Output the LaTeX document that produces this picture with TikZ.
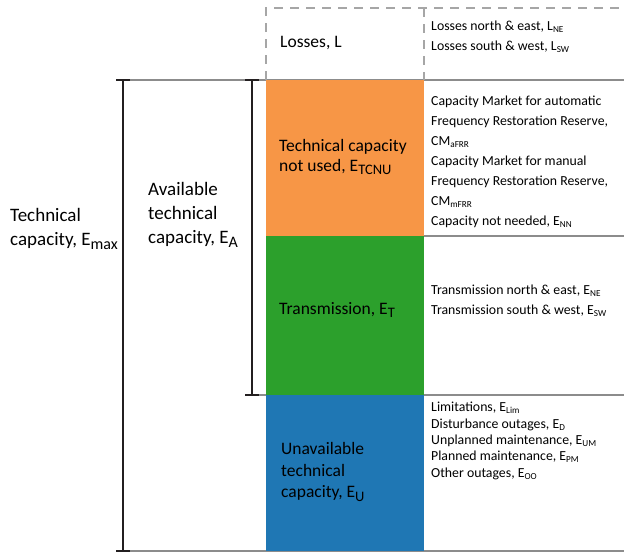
\documentclass[tikz,border=0pt]{standalone}
\usepackage{fontspec}
\setmainfont{Carlito}
\definecolor{corange}{HTML}{F79646}
\definecolor{cgreen}{HTML}{2CA02C}
\definecolor{cblue}{HTML}{1F77B4}
\definecolor{crule}{HTML}{8C8C8C}
\definecolor{cdash}{HTML}{A6A6A6}
\definecolor{cbrk}{HTML}{231F20}
% subscripts for the large and the small labels
\newcommand\bsub[1]{\raisebox{-0.4ex}{\fontsize{14.5}{14.5}\selectfont #1}}
\newcommand\lsub[1]{\raisebox{-0.4ex}{\fontsize{16}{16}\selectfont #1}}
\newcommand\ssub[1]{\raisebox{-0.3ex}{\fontsize{9.2}{9.2}\selectfont #1}}
\tikzset{
  block/.style={anchor=north west, inner sep=0pt, draw=none, minimum width=158pt},
  biglabel/.style={anchor=west, inner sep=0pt, align=left, font=\fontsize{17.5}{20}\selectfont},
  sidelabel/.style={anchor=west, inner sep=0pt, align=left, font=\fontsize{19}{24}\selectfont},
  smalllabel/.style={anchor=west, inner sep=0pt, align=left, font=\fontsize{13.8}{20}\selectfont},
  rule/.style={draw=crule, line width=1.3pt},
  dashrule/.style={draw=cdash, line width=1.2pt, dash pattern=on 9pt off 7pt},
  brk/.style={draw=cbrk, line width=2pt},
}
\begin{document}
\begin{tikzpicture}[x=1pt, y=-1pt]
\useasboundingbox (0,0) rectangle (624,552);

% horizontal rules of the table
\draw[rule] (116,80) -- (624,80);
\draw[rule] (424,236) -- (624,236);
\draw[rule] (259,395) -- (624,395);
\draw[rule] (116,551) -- (624,551);

% dashed losses row
\draw[dashrule] (266,80) -- (266,8) -- (624,8);
\draw[dashrule] (424,8) -- (424,80);

% coloured capacity blocks
\node[block, fill=corange, minimum height=156pt] (tcnu) at (266,80) {};
\node[block, fill=cgreen, minimum height=159pt] (trans) at (266,236) {};
\node[block, fill=cblue, minimum height=156pt] (unav) at (266,395) {};

% brackets for the technical and the available capacity
\draw[brk] (123,80) -- (123,551);
\draw[brk] (116,80) -- (130,80);
\draw[brk] (116,551) -- (130,551);
\draw[brk] (252,80) -- (252,395);
\draw[brk] (245,80) -- (259,80);
\draw[brk] (245,395) -- (259,395);

% left labels
\node[sidelabel] (emax) at (10,229)
  {Technical\\capacity, E\lsub{max}};
\node[sidelabel] (ea) at (148,215)
  {Available\\technical\\capacity, E\lsub{A}};

% labels inside the blocks
\node[biglabel] (lossL) at (280,43) {Losses, L};
\node[biglabel] (tcnuL) at (279,157) {Technical capacity\\not used, E\bsub{TCNU}};
\node[biglabel] (transL) at (279,310) {Transmission, E\bsub{T}};
\node[biglabel, font=\fontsize{17.5}{21.5}\selectfont] (unavL) at (281,472)
  {Unavailable\\technical\\capacity, E\bsub{U}};

% breakdown column
\node[smalllabel] (lossR) at (431,37)
  {Losses north \& east, L\ssub{NE}\\Losses south \& west, L\ssub{SW}};
\node[smalllabel] (tcnuR) at (431,162)
  {Capacity Market for automatic\\Frequency Restoration Reserve,\\CM\ssub{aFRR}\\
   Capacity Market for manual\\Frequency Restoration Reserve,\\CM\ssub{mFRR}\\
   Capacity not needed, E\ssub{NN}};
\node[smalllabel] (transR) at (431,301)
  {Transmission north \& east, E\ssub{NE}\\Transmission south \& west, E\ssub{SW}};
\node[smalllabel, font=\fontsize{13.8}{16.3}\selectfont] (unavR) at (431,441)
  {Limitations, E\ssub{Lim}\\Disturbance outages, E\ssub{D}\\
   Unplanned maintenance, E\ssub{UM}\\Planned maintenance, E\ssub{PM}\\
   Other outages, E\ssub{OO}};
\end{tikzpicture}
\end{document}
